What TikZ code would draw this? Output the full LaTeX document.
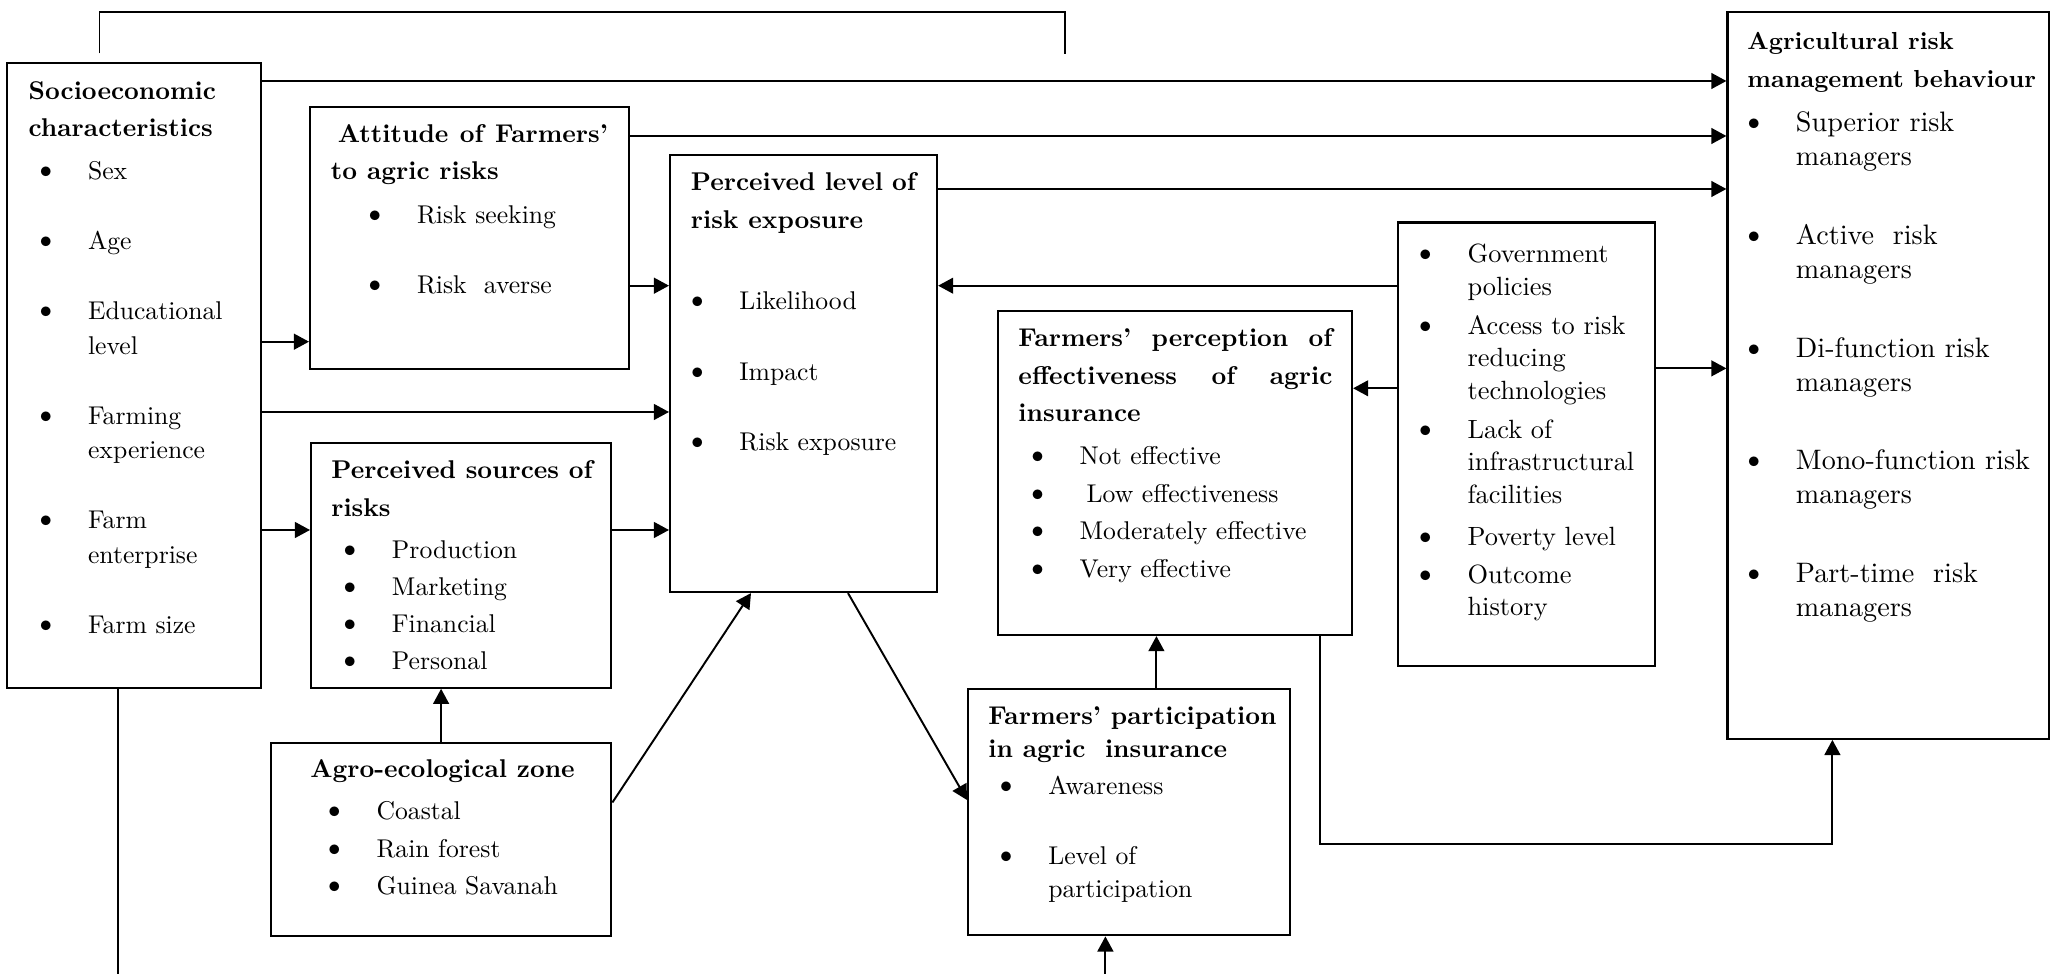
\documentclass[tikz,border=0pt]{standalone}
\usepackage{fontspec}
\setmainfont{lmroman10}[Extension=.otf, UprightFont=*-regular, BoldFont=*-bold,
  ItalicFont=*-italic, BoldItalicFont=*-bolditalic]
\usetikzlibrary{arrows.meta}
\newdimen\pu \pu=0.01cm
\newdimen\bulind
\newcommand\tp{\rule{0pt}{22\pu}}
\newcommand\bulsign{{\fontsize{9.5}{0}\selectfont\textbullet}}
\newcommand\itm[1]{\hspace*{\bulind}\makebox[12.8\pu][c]{\bulsign}\hspace*{35.7\pu}#1}
\newcommand\cnt[1]{\hspace*{\bulind}\hspace*{48.5\pu}#1}
\tikzset{
  txt/.style={anchor=north west, inner sep=0pt, align=left, font=\fontsize{7.3}{#1}\selectfont},
  ind/.style={execute at begin node={\global\bulind=#1\pu}}
}

\begin{document}
\begin{tikzpicture}[x=0.01cm, y=-0.01cm, line width=0.55pt]
  \tikzstyle{box}=[draw, anchor=north west, inner sep=0pt, line width=0.6pt]
  \tikzstyle{arr}=[-{Triangle[length=4.3pt,width=4.5pt]}]
  \useasboundingbox (0,0) rectangle (2051,974);

  % boxes
  \node[box, minimum width=254\pu, minimum height=625.3\pu] (socio) at (6,61.7) {};
  \node[box, minimum width=319\pu, minimum height=262.6\pu] (att) at (309,105.7) {};
  \node[box, minimum width=267\pu, minimum height=437.3\pu] (plev) at (669,153.7) {};
  \node[box, minimum width=354\pu, minimum height=324.2\pu] (perc) at (997,309.8) {};
  \node[box, minimum width=300.3\pu, minimum height=245\pu] (src) at (310,441.7) {};
  \node[box, minimum width=340.5\pu, minimum height=193.4\pu] (agro) at (269.8,741.6) {};
  \node[box, minimum width=322\pu, minimum height=246.6\pu] (part) at (967,687.7) {};
  \node[box, minimum width=257\pu, minimum height=443.5\pu] (gov) at (1397,221.5) {};
  \node[box, minimum width=321.6\pu, minimum height=727.1\pu] (agri) at (1726.4,10.7) {};

  % box texts
  \node[txt=9.82pt, ind=10.9] (socio-t) at (27.7,76.3) {\tp\textbf{Socioeconomic}\\[3.2\pu]
    \textbf{characteristics}\\[8\pu]
    \itm{Sex}\\[35.5\pu]
    \itm{Age}\\[35.5\pu]
    \itm{Educational}\\
    \cnt{level}\\[35.5\pu]
    \itm{Farming}\\
    \cnt{experience}\\[35.5\pu]
    \itm{Farm}\\
    \cnt{enterprise}\\[35.5\pu]
    \itm{Farm size}};
  \node[txt=10.53pt, ind=37.6] (att-t) at (330,119.7) {\tp\hspace*{7\pu}\makebox[270\pu][s]{\bfseries Attitude of Farmers'}\\
    \textbf{to agric risks}\\[6.7\pu]
    \itm{Risk seeking}\\[33\pu]
    \itm{Risk\ \ averse}};
  \node[txt=10.53pt, ind=0] (plev-t) at (690,167.5) {\tp\makebox[225\pu][s]{\bfseries Perceived level of}\\[1.5\pu]
    \textbf{risk exposure}\\[43.8\pu]
    \itm{Likelihood}\\[33.2\pu]
    \itm{Impact}\\[33\pu]
    \itm{Risk exposure}};
  \node[txt=10.67pt, ind=12.7] (perc-t) at (1017.5,323.6) {\tp\makebox[314\pu][s]{\bfseries Farmers' perception of}\\
    \makebox[314\pu][s]{\bfseries effectiveness of agric}\\
    \textbf{insurance}\\[5.5\pu]
    \itm{Not effective}\\
    \itm{\hspace*{7\pu}Low effectiveness}\\
    \itm{Moderately effective}\\
    \itm{Very effective}};
  \node[txt=10.53pt, ind=12.1] (src-t) at (330.4,456) {\tp\makebox[261.4\pu][s]{\bfseries Perceived sources of}\\[1\pu]
    \textbf{risks}\\[4\pu]
    \itm{Production}\\
    \itm{Marketing}\\
    \itm{Financial}\\
    \itm{Personal}};
  \node[txt=10.53pt, ind=17.8] (agro-t) at (309.3,755) {\tp\textbf{Agro-ecological zone}\\[5\pu]
    \itm{Coastal}\\
    \itm{Rain forest}\\
    \itm{Guinea Savanah}};
  \node[txt=9.53pt, ind=11.4] (part-t) at (987.4,701.3) {\tp\textbf{Farmers' participation}\\
    \textbf{in agric\ \ insurance}\\[3.1\pu]
    \itm{Awareness}\\[36.5\pu]
    \itm{Level of}\\
    \cnt{participation}};
  \node[txt=9.25pt, font=\fontsize{7.5}{9.25}\selectfont, ind=0] (gov-t) at (1418.1,239.8) {\tp\itm{Government}\\
    \cnt{policies}\\[6.5\pu]
    \itm{Access to risk}\\
    \cnt{reducing}\\
    \cnt{technologies}\\[6.3\pu]
    \itm{Lack of}\\
    \cnt{infrastructural}\\
    \cnt{facilities}\\[9.8\pu]
    \itm{Poverty level}\\[5.2\pu]
    \itm{Outcome}\\
    \cnt{history}};
  \node[txt=9.67pt, font=\fontsize{8}{9.67}\selectfont, ind=0] (agri-t) at (1746.5,26.5) {\tp{\fontsize{7}{9.67}\selectfont\bfseries Agricultural risk}\\[3.8\pu]
    {\fontsize{7}{9.67}\selectfont\bfseries management behaviour}\\[10.6\pu]
    \itm{Superior risk}\\
    \cnt{managers}\\[44.5\pu]
    \itm{Active\ \ risk}\\
    \cnt{managers}\\[45\pu]
    \itm{Di-function risk}\\
    \cnt{managers}\\[44.5\pu]
    \itm{Mono-function risk}\\
    \cnt{managers}\\[45\pu]
    \itm{Part-time\ \ risk}\\
    \cnt{managers}};

  % free ends
  \coordinate (topl) at (99.5,53.3);
  \coordinate (topr) at (1064.7,53.6);
  \coordinate (socout) at (118,974);
  \coordinate (partin) at (1105.4,974);

  % connectors
  \draw (topl) |- (1064.7,11.7) -- (topr);
  \draw[arr] (socio.east |- 0,81) -- (agri.west |- 0,81);
  \draw[arr] (att.east |- 0,136) -- (agri.west |- 0,136);
  \draw[arr] (plev.east |- 0,189) -- (agri.west |- 0,189);
  \draw[arr] (att.east |- 0,285.7) -- (plev.west |- 0,285.7);
  \draw[arr] (socio.east |- 0,341.7) -- (att.west |- 0,341.7);
  \draw[arr] (socio.east |- 0,412) -- (plev.west |- 0,412);
  \draw[arr] (socio.east |- 0,530) -- (src.west |- 0,530);
  \draw[arr] (src.east |- 0,530) -- (plev.west |- 0,530);
  \draw[arr] (gov.west |- 0,285.7) -- (plev.east |- 0,285.7);
  \draw[arr] (gov.west |- 0,388.3) -- (perc.east |- 0,388.3);
  \draw[arr] (gov.east |- 0,368.4) -- (agri.west |- 0,368.4);
  \draw[arr] (agro.north) -- (agro.north |- src.south);
  \draw[arr] (agro.east |- 0,802.5) -- (751,0 |- plev.south);
  \draw[arr] (848,0 |- plev.south) -- (part.west |- 0,800);
  \draw[arr] (1156.4,0 |- part.north) -- (1156.4,0 |- perc.south);
  \draw[arr] (partin) -- (partin |- part.south);
  \draw[arr] (1319.6,0 |- perc.south) |- (1832.4,844) -- (1832.4,0 |- agri.south);
  \draw (socout |- socio.south) -- (socout);
\end{tikzpicture}
\end{document}
